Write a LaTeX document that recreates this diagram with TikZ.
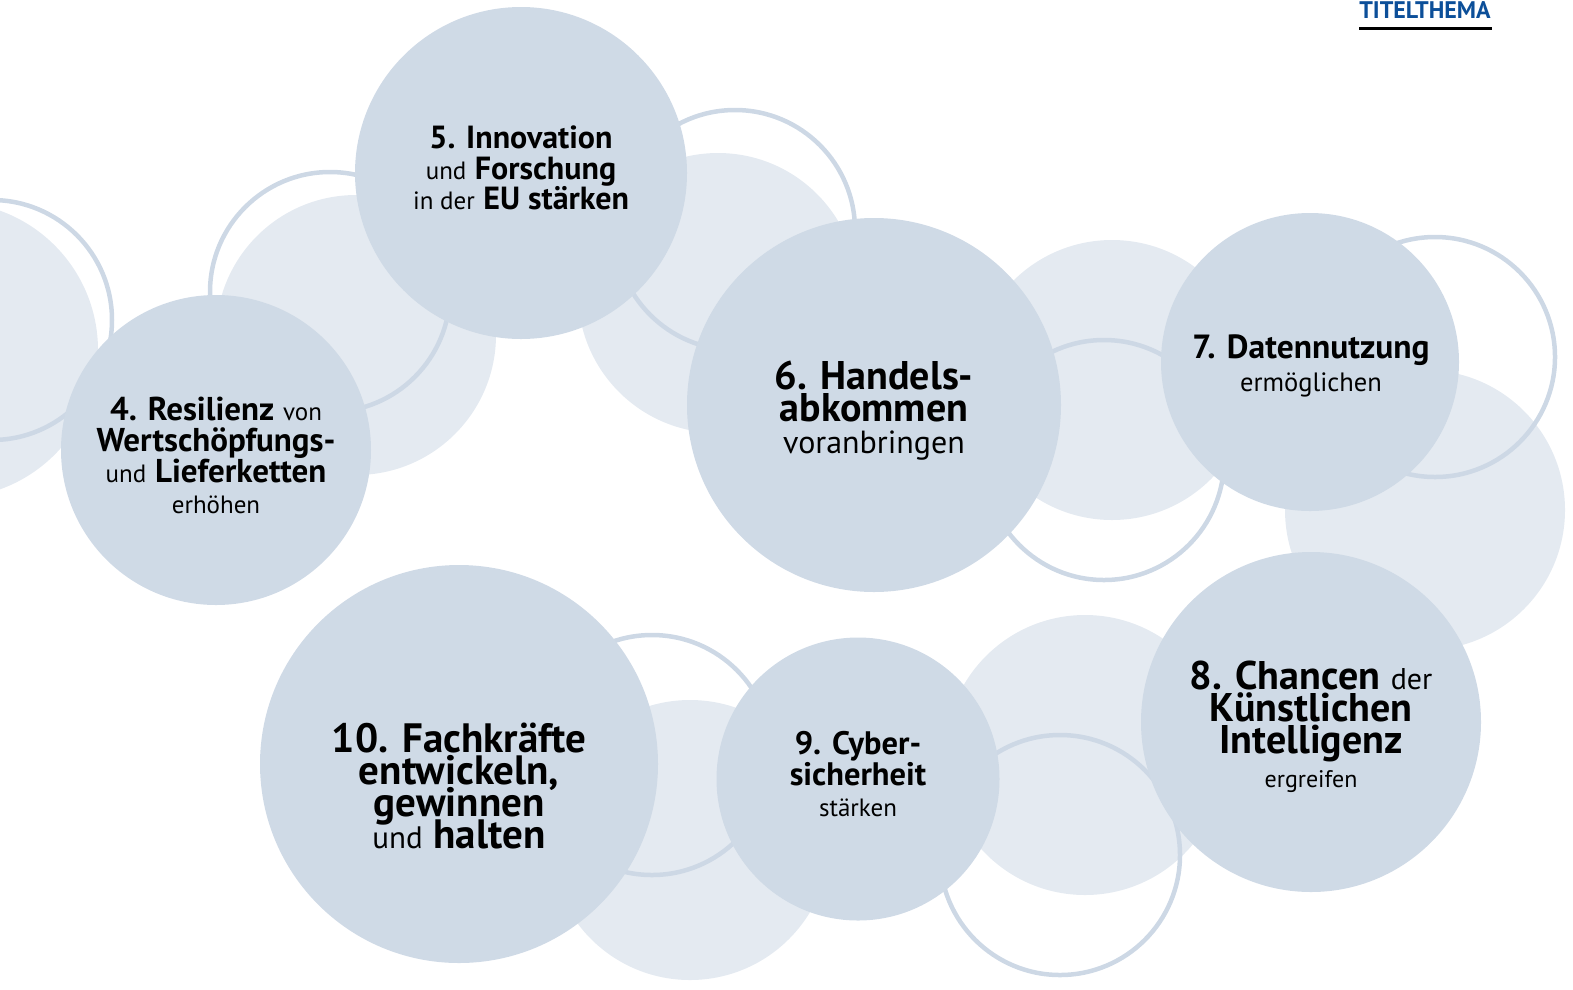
\documentclass[tikz,border=0pt]{standalone}
\usepackage{fontspec}
\setmainfont{PT Sans}
\definecolor{discblue}{RGB}{207,218,230}
\definecolor{paleblue}{RGB}{228,234,241}
\definecolor{ringblue}{RGB}{205,216,229}
\definecolor{titleblue}{RGB}{12,79,153}
\newcommand{\sm}[2]{{\fontsize{#1}{\baselineskip}\selectfont #2}}
\setlength{\lineskiplimit}{-100pt}

\begin{document}
\begin{tikzpicture}[x=1pt, y=-1pt,
discnode/.style={circle, fill=discblue, inner sep=0pt, minimum size=#1},
disctext/.style={align=center, inner sep=0pt},
palenode/.style={circle, fill=paleblue, inner sep=0pt, minimum size=#1},
ringnode/.style={circle, draw=ringblue, line width=4.5pt, inner sep=0pt, minimum size=#1},
]
\useasboundingbox (0,0) rectangle (1573,989);
\clip (0,0) rectangle (1573,989);

%Back circles
\node[palenode=296] (paleleft)  at (-50,350)  {};
\node[palenode=280] (pale45)    at (356,335)  {};
\node[palenode=280] (pale56)    at (718,293)  {};
\node[palenode=280] (pale67)    at (1112,380) {};
\node[palenode=280] (pale78)    at (1425,510) {};
\node[palenode=280] (pale89)    at (1085,755) {};
\node[palenode=280] (pale910)   at (690,840)  {};

%Rings
\node[ringnode=240] (ringleft)  at (-8,320)   {};
\node[ringnode=240] (ring45)    at (330,292)  {};
\node[ringnode=240] (ring56)    at (735,230)  {};
\node[ringnode=240] (ring67)    at (1104,460) {};
\node[ringnode=240] (ring7)     at (1435,357) {};
\node[ringnode=240] (ring89)    at (1060,855) {};
\node[ringnode=240] (ring910)   at (652,755)  {};

%Nodes
\node[discnode=332] (innovation)  at (521,173) {};
\node[discnode=310] (resilienz)   at (216,450) {};
\node[discnode=374] (handel)      at (874,405) {};
\node[discnode=298] (daten)       at (1310,362) {};
\node[discnode=340] (ki)          at (1311,722) {};
\node[discnode=283] (cyber)       at (858,779) {};
\node[discnode=398] (fachkraefte) at (459,764) {};

%Texts
\node[disctext, font=\fontsize{32}{30.5}\selectfont] (innovation-text) at (521,168)
  {\textbf{5. Innovation}\\ \sm{25}{und} \textbf{Forschung}\\ \sm{25}{in der} \textbf{EU stärken}};
\node[disctext, font=\fontsize{33}{31}\selectfont] (resilienz-text) at (216,455)
  {\textbf{4. Resilienz} \sm{25}{von}\\ \textbf{Wertschöpfungs-}\\ \sm{25}{und} \textbf{Lieferketten}\\ \sm{25}{erhöhen}};
\node[disctext, font=\fontsize{40}{32}\selectfont] (handel-text) at (874,411)
  {\textbf{6. Handels-}\\ \textbf{abkommen}\\ \sm{32}{voranbringen}};
\node[disctext, font=\fontsize{33.5}{33}\selectfont] (daten-text) at (1311,366)
  {\textbf{7. Datennutzung}\\ \sm{26.5}{ermöglichen}};
\node[disctext, font=\fontsize{40}{32}\selectfont] (ki-text) at (1311,727)
  {\textbf{8. Chancen} \sm{30}{der}\\ \textbf{Künstlichen}\\ \textbf{Intelligenz}\\[2pt] \sm{24}{ergreifen}};
\node[disctext, font=\fontsize{32.5}{31}\selectfont] (cyber-text) at (858,774)
  {\textbf{9. Cyber-}\\ \textbf{sicherheit}\\ \sm{25}{stärken}};
\node[disctext, font=\fontsize{41}{32}\selectfont] (fachkraefte-text) at (459,786)
  {\textbf{10. Fachkräfte}\\ \textbf{entwickeln,}\\ \textbf{gewinnen}\\ \sm{31}{und} \textbf{halten}};

%Title
\node[font=\fontsize{24}{26}\selectfont\bfseries, text=titleblue, inner sep=0pt] (titel) at (1425,10) {TITELTHEMA};
\draw[line width=3pt] (1359,28) -- (1492,28);
\end{tikzpicture}
\end{document}
